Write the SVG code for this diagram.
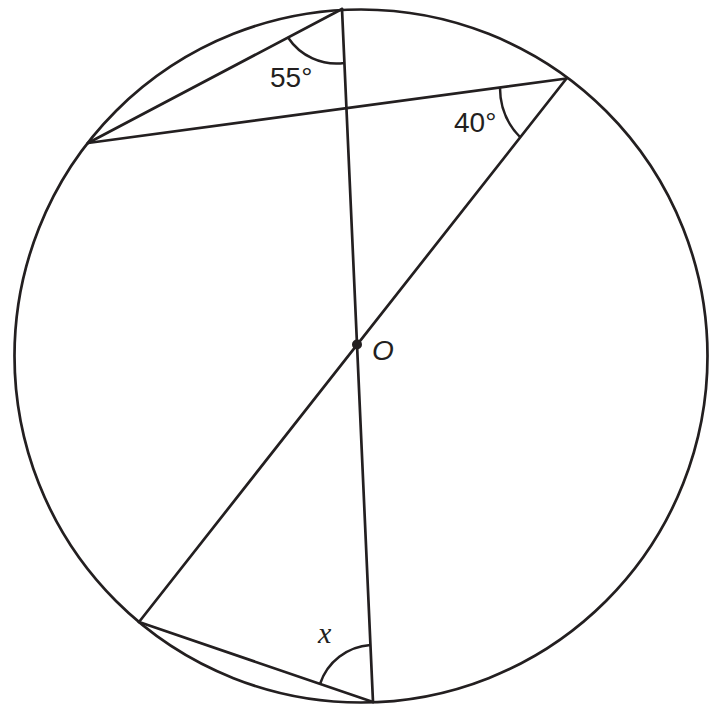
<svg xmlns="http://www.w3.org/2000/svg" width="714" height="711" viewBox="0 0 714 711">
<style>
.ln{fill:none;stroke:#231f20;stroke-width:2.7;stroke-linecap:round;stroke-linejoin:round}
.arc{fill:none;stroke:#231f20;stroke-width:2.5}
.lbl{font-family:"Liberation Sans",Arial,sans-serif;font-size:28px;fill:#231f20}
</style>
<rect width="714" height="711" fill="#fff"/>
<g id="circle">
<circle class="ln" cx="361" cy="356" r="346.5"/>
</g>
<g id="connectors">
<line class="ln" x1="342" y1="9" x2="88" y2="143"/>
<line class="ln" x1="88" y1="143" x2="566.5" y2="78.5"/>
<line class="ln" x1="566.5" y1="78.5" x2="139" y2="622"/>
<line class="ln" x1="342" y1="9" x2="373" y2="702"/>
<line class="ln" x1="139" y1="622" x2="373" y2="702"/>
</g>
<g id="angles">
<path class="arc" d="M288,37.5 A58,58 0 0 0 344.4,63"/>
<path class="arc" d="M500,87.5 A70,70 0 0 0 520,137"/>
<path class="arc" d="M320,684 A57,57 0 0 1 370.4,645"/>
</g>
<g id="centre">
<circle cx="357" cy="344.5" r="5" fill="#231f20"/>
<text class="lbl" x="372" y="360" font-style="italic">O</text>
</g>
<g id="labels">
<text class="lbl" x="270" y="86.5">55°</text>
<text class="lbl" x="454" y="131.5">40°</text>
<text x="318" y="643" font-family="'Liberation Serif','Times New Roman',serif" font-style="italic" font-size="30" fill="#231f20">x</text>
</g>
</svg>
